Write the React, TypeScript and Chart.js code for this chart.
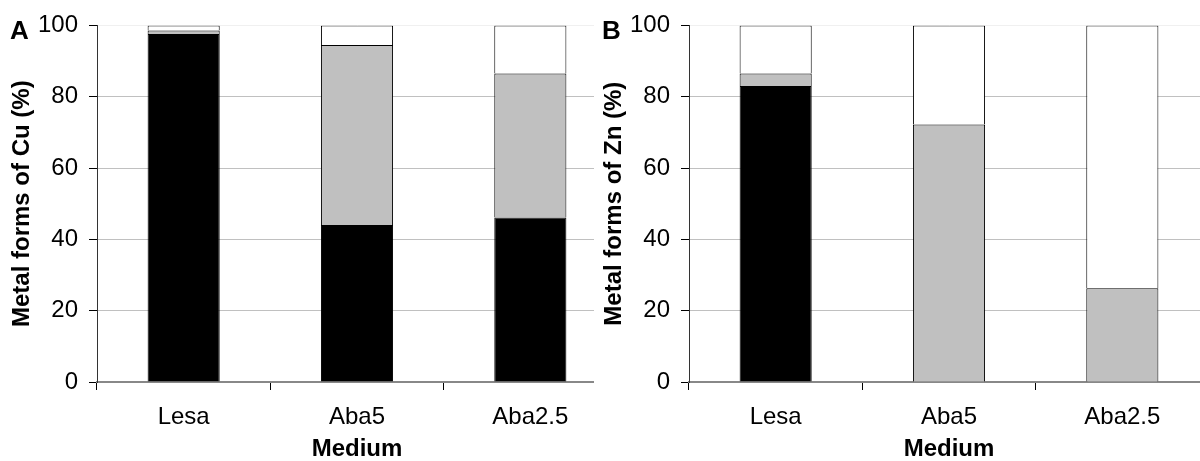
import React, { useEffect, useRef } from "react";
import { Chart, registerables } from "chart.js";

Chart.register(...registerables);

const categories = ["Lesa", "Aba5", "Aba2.5"];
const cuBlack = [97.6, 44.0, 46.1];
const cuGrey = [1.0, 50.5, 40.4];
const cuWhite = [1.4, 5.5, 13.5];
const znBlack = [83.0, 0, 0];
const znGrey = [3.5, 72.2, 26.3];
const znWhite = [13.5, 27.8, 73.7];
const yTicks = [0, 20, 40, 60, 80, 100];
const xTitle = "Medium";
const cuTitle = "Metal forms of Cu (%)";
const znTitle = "Metal forms of Zn (%)";

const FONT = "'Liberation Sans', Arial, sans-serif";

type PanelProps = {
  black: number[];
  grey: number[];
  white: number[];
  yTitle: string;
};

function Panel({ black, grey, white, yTitle }: PanelProps) {
  const ref = useRef<HTMLCanvasElement | null>(null);
  useEffect(() => {
    if (!ref.current) return;
    const ds = (data: number[], color: string) => ({
      data,
      backgroundColor: color,
      borderColor: "#000",
      borderWidth: 1,
      borderSkipped: "start" as const,
      barPercentage: 0.416,
      categoryPercentage: 1,
    });
    const chart = new Chart(ref.current, {
      type: "bar",
      data: {
        labels: categories,
        datasets: [ds(black, "#000000"), ds(grey, "#c0c0c0"), ds(white, "#ffffff")],
      },
      options: {
        responsive: false,
        animation: false,
        layout: { padding: { top: 22, right: 0, bottom: 0, left: 0 } },
        plugins: {
          legend: { display: false },
          tooltip: { enabled: false },
        },
        scales: {
          x: {
            stacked: true,
            offset: true,
            grid: {
              display: true,
              offset: true,
              drawOnChartArea: false,
              drawTicks: true,
              tickLength: 8,
              tickColor: "#000",
              tickWidth: 1,
            },
            border: { display: true, color: "#888", width: 2 },
            ticks: {
              color: "#000",
              font: { family: FONT, size: 24 },
              padding: 13,
              maxRotation: 0,
              autoSkip: false,
            },
            title: {
              display: true,
              text: xTitle,
              color: "#000",
              font: { family: FONT, size: 24, weight: "bold" },
              padding: { top: 0, bottom: 0 },
            },
            afterFit: (s: any) => {
              s.height = 82;
            },
          },
          y: {
            stacked: true,
            min: 0,
            max: 100,
            afterBuildTicks: (s: any) => {
              s.ticks = yTicks.map((v) => ({ value: v }));
            },
            grid: {
              color: (ctx: any) =>
                ctx.tick && ctx.tick.value === 100 ? "#f0f0f0" : "#c0c0c0",
              lineWidth: 1,
              drawTicks: true,
              tickLength: 8,
              tickColor: "#000",
            },
            border: { display: true, color: "#333", width: 1 },
            ticks: {
              color: "#000",
              font: { family: FONT, size: 24 },
              padding: 11,
            },
            title: {
              display: true,
              text: yTitle,
              color: "#000",
              font: { family: FONT, size: 24, weight: "bold" },
              padding: { top: 8, bottom: 0 },
            },
            afterFit: (s: any) => {
              s.width = 97;
            },
          },
        },
      },
    });
    return () => chart.destroy();
  }, [black, grey, white, yTitle]);
  return <canvas ref={ref} width={617} height={464} style={{ display: "block" }} />;
}

const letterStyle: React.CSSProperties = {
  position: "absolute",
  top: 17,
  fontFamily: FONT,
  fontWeight: "bold",
  fontSize: 26,
  lineHeight: "26px",
  color: "#000",
};

export default function App() {
  return (
    <div
      style={{
        position: "absolute",
        left: 0,
        top: 0,
        width: 1200,
        height: 461,
        background: "#fff",
        overflow: "hidden",
      }}
    >
      <div style={{ position: "absolute", left: 0, top: 0, width: 594, height: 461, overflow: "hidden" }}>
        <Panel black={cuBlack} grey={cuGrey} white={cuWhite} yTitle={cuTitle} />
      </div>
      <div style={{ position: "absolute", left: 592, top: 0, width: 608, height: 461, overflow: "hidden" }}>
        <Panel black={znBlack} grey={znGrey} white={znWhite} yTitle={znTitle} />
      </div>
      <div style={{ ...letterStyle, left: 10 }}>A</div>
      <div style={{ ...letterStyle, left: 602 }}>B</div>
    </div>
  );
}
